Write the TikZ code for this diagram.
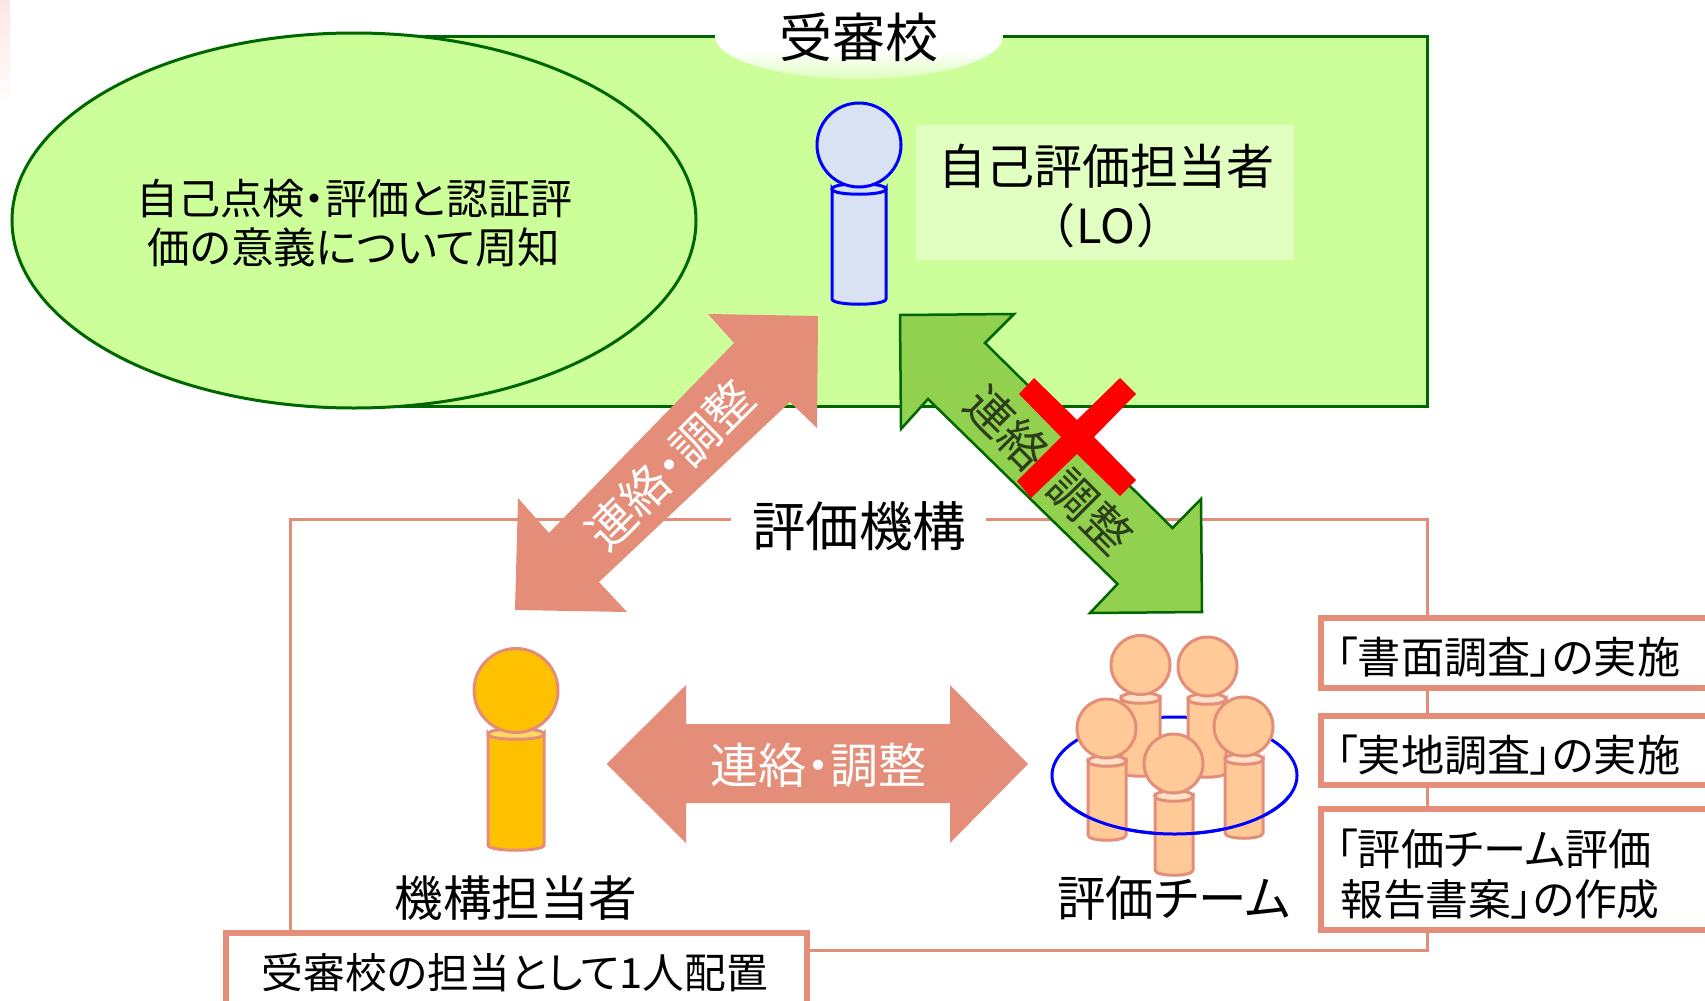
\documentclass[tikz,border=0pt]{standalone}
\usepackage{fontspec}
\usetikzlibrary{shapes.geometric}
\newfontfamily\jp[RawFeature=+palt]{Noto Sans CJK JP}
\setmainfont{Noto Sans CJK JP}
\newcommand\fsz[1]{\fontsize{#1}{#1}\selectfont\jp}
\definecolor{salmon}{HTML}{E48E7A}
\definecolor{lime}{HTML}{CCFF99}
\definecolor{dgreen}{HTML}{006600}
\definecolor{agreen}{HTML}{92D050}
\definecolor{peach}{HTML}{FFC998}
\definecolor{peachrim}{HTML}{FFE0C8}
\definecolor{loblue}{HTML}{D9E2F3}
\definecolor{gold}{HTML}{FFC000}
\definecolor{goldrim}{HTML}{FFD966}
\tikzset{
  x=1pt,y=-1pt,
  txt/.style={inner sep=0pt,align=center,text=black},
  sidebox/.style={draw=salmon,line width=5.5pt,fill=white},
  head/.style={ellipse,minimum width=#1,minimum height=#1,inner sep=0pt},
}
% body: left x, right x, top y, bottom y, fill, rim fill, stroke, width
\newcommand\kfig[8]{%
  \draw[fill=#5,draw=#7,line width=#8] (#1,#3+6) -- (#1,#4-6)
    .. controls (#1,#4+1) and (#2,#4+1) .. (#2,#4-6) -- (#2,#3+6)
    .. controls (#2,#3+12) and (#1,#3+12) .. (#1,#3+6) -- cycle;
  \draw[fill=#6,draw=#7,line width=#8] (#1,#3+6)
    .. controls (#1,#3-1) and (#2,#3-1) .. (#2,#3+6)
    .. controls (#2,#3+13) and (#1,#3+13) .. (#1,#3+6) -- cycle;
}
\begin{document}
\begin{tikzpicture}
\useasboundingbox (0,0) rectangle (1705,1001);
\clip (0,0) rectangle (1705,1001);
\fill[white] (0,0) rectangle (1705,1001);
\shade[top color=red!10,bottom color=white] (0,0) rectangle (10,110);
% school area
\draw[fill=lime,draw=dgreen,line width=3pt] (354,36) rectangle (1427,406);
\node[ellipse,minimum width=684pt,minimum height=375pt,inner sep=0pt,fill=lime,draw=dgreen,line width=3pt] (aware) at (354,220.5) {};
\node[txt,font=\fsz{42}] (aware1) at (354,199) {自己点検・評価と認証評};
\node[txt,font=\fsz{42.5}] (aware2) at (354,247) {価の意義について周知};
\fill[white] (715,0) rectangle (1003,37.6);
\begin{scope}
\clip (859,36) ellipse [x radius=144,y radius=43];
\fill[white] (715,36) rectangle (1003,50);
\shade[top color=white,bottom color=lime!65!white] (715,50) rectangle (1003,79.5);
\end{scope}
\node[txt,font=\fsz{53}] (school) at (859,37) {受審校};
% LO
\node[fill=white,fill opacity=.4,minimum width=378pt,minimum height=135pt,inner sep=0pt] (lobox) at (1105,192.5) {};
\node[txt,font=\fsz{48}] (lo1) at (1106,166) {自己評価担当者};
\node[txt,font=\fsz{47}] (lo2) at (1106,226) {（\kern3pt LO\kern3pt）};
\kfig{832}{886}{183}{305}{loblue}{loblue}{blue}{3pt}
\node[head=84pt,fill=loblue,draw=blue,line width=3pt] (lohead) at (859,145) {};
% agency frame
\draw[draw=salmon,line width=3pt,fill=white] (290,519) rectangle (1427,950);
\fill[white] (731,505) rectangle (986,535);
\node[txt,font=\fsz{53.5}] (agency) at (859,526) {評価機構};
% salmon diagonal arrow
\fill[salmon] (818,316) -- (708,314) -- (734,343) -- (549,533) -- (518,498) -- (515,610) -- (627,612) -- (599,582) -- (790,402) -- (817,428) -- cycle;
\node[txt,font=\fsz{47.5},text=white,rotate=45] (arrowA) at (670,465) {連絡・調整};
% green diagonal arrow
\draw[fill=agreen,draw=dgreen,line width=2.5pt] (900,315) -- (1014,314) -- (985,343) -- (1172.5,528) -- (1201,499) -- (1202,612) -- (1090,613) -- (1117.5,584) -- (928,399) -- (901,429) -- cycle;
\node[txt,font=\fsz{47},text=black!70!agreen,rotate=-45] (arrowB) at (1049,470) {連絡・調整};
\fill[red] (1034,378) -- (1077,420) -- (1120,378) -- (1136,394) -- (1094,437) -- (1136,480) -- (1120,496) -- (1077,454) -- (1031,498) -- (1017,481) -- (1061,437) -- (1019,394) -- cycle;
% staff figure
\kfig{488}{544}{728}{851}{gold}{goldrim}{salmon}{3pt}
\node[head=84pt,fill=gold,draw=salmon,line width=3pt] (staffhead) at (516,690.5) {};
\node[txt,font=\fsz{48.5}] (staff) at (516,898) {機構担当者};
% horizontal arrow
\fill[salmon] (606.5,764) -- (686,685) -- (686,724) -- (950,724) -- (950,685) -- (1028,764) -- (950,843) -- (950,803) -- (686,803) -- (686,843) -- cycle;
\node[txt,font=\fsz{48},text=white] (arrowC) at (818,765) {連絡・調整};
% team
\node[ellipse,minimum width=245pt,minimum height=117pt,inner sep=0pt,draw=blue,line width=3pt] (ring) at (1174.5,775.5) {};
\kfig{1121}{1160}{692}{777}{peach}{peachrim}{salmon}{3pt}
\node[head=59pt,fill=peach,draw=salmon,line width=3pt] (t1) at (1140.5,665) {};
\kfig{1188}{1226}{693}{778}{peach}{peachrim}{salmon}{3pt}
\node[head=59pt,fill=peach,draw=salmon,line width=3pt] (t2) at (1207.5,666.5) {};
\kfig{1088}{1126}{755}{841}{peach}{peachrim}{salmon}{3pt}
\node[head=59pt,fill=peach,draw=salmon,line width=3pt] (t3) at (1106.5,728.5) {};
\kfig{1225}{1263}{753}{839}{peach}{peachrim}{salmon}{3pt}
\node[head=59pt,fill=peach,draw=salmon,line width=3pt] (t4) at (1243.5,726.5) {};
\kfig{1155}{1193}{790}{876}{peach}{peachrim}{salmon}{3pt}
\node[head=59pt,fill=peach,draw=salmon,line width=3pt] (t5) at (1173.5,763.5) {};
\begin{scope}
\clip (1040,795) rectangle (1310,840);
\draw[blue,line width=3pt] (ring.center) ellipse [x radius=122.5,y radius=58.5];
\end{scope}
\node[txt,font=\fsz{48.5}] (team) at (1174,898) {評価チーム};
% side boxes
\draw[sidebox] (1321,618) rectangle (1720,688);
\node[txt,font=\fsz{43.2},anchor=west] (b1) at (1336,657) {「書面調査」の実施};
\draw[sidebox] (1321,716) rectangle (1720,785);
\node[txt,font=\fsz{43.2},anchor=west] (b2) at (1336,755) {「実地調査」の実施};
\draw[sidebox] (1321,809) rectangle (1720,930);
\node[txt,font=\fsz{43.2},anchor=west] (b3) at (1336,849) {「評価チーム評価};
\node[txt,font=\fsz{42.8},anchor=west] (b4) at (1340,899) {報告書案」の作成};
\draw[sidebox] (226,933) rectangle (807,1020);
\node[txt,font=\fsz{41.7}] (note) at (515,973) {受審校の担当として1人配置};
\end{tikzpicture}
\end{document}
